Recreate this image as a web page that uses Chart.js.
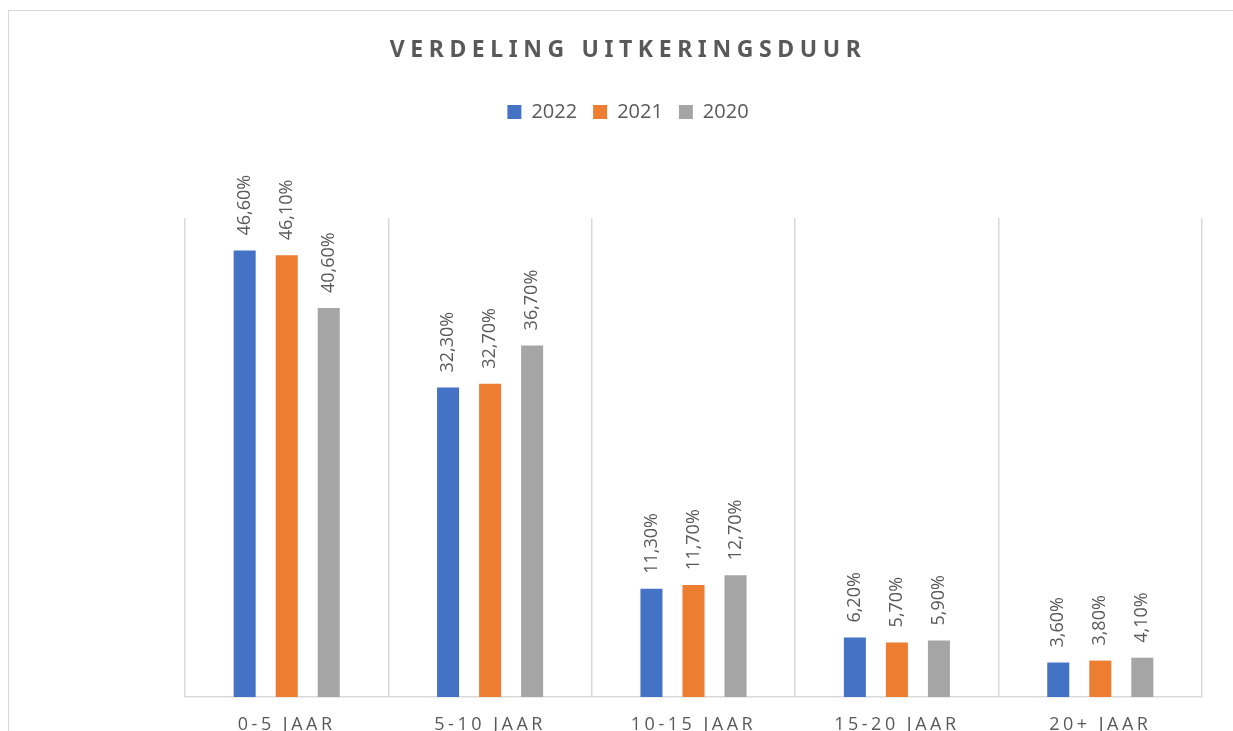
<!DOCTYPE html>
<html>
<head>
<meta charset="utf-8">
<script src="https://cdn.jsdelivr.net/npm/chart.js@4.4.1/dist/chart.umd.min.js"></script>
<style>
    html, body { margin: 0; padding: 0; overflow: hidden; background: #ffffff; }
    #frame { position: absolute; left: 8px; top: 10px; width: 1400px; height: 900px; border: 1px solid #d9d9d9; }
    #chart { position: absolute; left: 0; top: 0; }
</style>
</head>
<body>
<div id="frame"></div>
<canvas id="chart" width="1250" height="760"></canvas>
<script>
const categories = ['0-5 JAAR', '5-10 JAAR', '10-15 JAAR', '15-20 JAAR', '20+ JAAR'];
const years = ['2022', '2021', '2020'];
const values2022 = [46.6, 32.3, 11.3, 6.2, 3.6];
const values2021 = [46.1, 32.7, 11.7, 5.7, 3.8];
const values2020 = [40.6, 36.7, 12.7, 5.9, 4.1];
const colors = ['#4472C4', '#ED7D31', '#A5A5A5'];

const textColor = '#595959';
const fontFamily = '"Open Sans", "Liberation Sans", sans-serif';
const titleFamily = '"Noto Sans", "Liberation Sans", sans-serif';

// legend gets extra room below it, title and ticks get letter spacing
const layoutTweaks = {
    id: 'layoutTweaks',
    beforeInit(chart) {
        const legendFit = chart.legend.fit;
        chart.legend.fit = function () {
            legendFit.call(this);
            this.height += 86;
        };
        const titleDraw = chart.titleBlock.draw;
        chart.titleBlock.draw = function (area) {
            this.ctx.save();
            this.ctx.letterSpacing = '5.6px';
            titleDraw.call(this, area);
            this.ctx.restore();
        };
    },
    afterLayout(chart) {
        const x = chart.scales.x;
        if (x && !x._spaced) {
            const drawLabels = x.drawLabels;
            x.drawLabels = function (area) {
                this.ctx.save();
                this.ctx.letterSpacing = '3.5px';
                drawLabels.call(this, area);
                this.ctx.restore();
            };
            x._spaced = true;
        }
    }
};

// vertical value labels above each bar
const barLabels = {
    id: 'barLabels',
    afterDatasetsDraw(chart) {
        const ctx = chart.ctx;
        ctx.save();
        ctx.font = '18px ' + fontFamily;
        ctx.fillStyle = textColor;
        ctx.textAlign = 'left';
        ctx.textBaseline = 'middle';
        chart.data.datasets.forEach((ds, i) => {
            const meta = chart.getDatasetMeta(i);
            meta.data.forEach((bar, j) => {
                const text = ds.data[j].toFixed(2).replace('.', ',') + '%';
                ctx.save();
                ctx.translate(bar.x, bar.y - 15);
                ctx.rotate(-Math.PI / 2);
                ctx.fillText(text, 0, 0);
                ctx.restore();
            });
        });
        ctx.restore();
    }
};

const hiddenAxis = (width) => ({
    display: true,
    min: 0,
    max: 50,
    ticks: {display: false},
    grid: {display: false},
    border: {display: false},
    afterFit: (scale) => { scale.width = width; }
});

new Chart(document.getElementById('chart'), {
    type: 'bar',
    data: {
        labels: categories,
        datasets: [values2022, values2021, values2020].map((data, i) => ({
            label: years[i],
            data: data,
            backgroundColor: colors[i],
            borderWidth: 0,
            categoryPercentage: 0.62,
            barPercentage: 0.524,
            yAxisID: 'y'
        }))
    },
    options: {
        responsive: false,
        animation: false,
        layout: {padding: {left: 8, right: 2, top: 0, bottom: 0}},
        scales: {
            x: {
                grid: {color: '#d9d9d9', lineWidth: 1.5, drawTicks: false, offset: true},
                border: {color: '#d9d9d9', width: 1.5},
                ticks: {
                    color: textColor,
                    font: {family: fontFamily, size: 18},
                    padding: 17,
                    autoSkip: false,
                    maxRotation: 0,
                    minRotation: 0
                },
                afterFit: (scale) => { scale.height = 63; }
            },
            y: Object.assign(hiddenAxis(177), {position: 'left'}),
            r: Object.assign(hiddenAxis(46), {position: 'right'})
        },
        plugins: {
            title: {
                display: true,
                text: 'VERDELING UITKERINGSDUUR',
                color: textColor,
                font: {family: titleFamily, size: 23, weight: 'bold'},
                padding: {top: 36.7, bottom: 21.7}
            },
            legend: {
                display: true,
                position: 'top',
                labels: {
                    boxWidth: 14,
                    boxHeight: 14,
                    padding: 16,
                    color: textColor,
                    font: {family: fontFamily, size: 20}
                }
            },
            tooltip: {enabled: false}
        }
    },
    plugins: [layoutTweaks, barLabels]
});
</script>
</body>
</html>
